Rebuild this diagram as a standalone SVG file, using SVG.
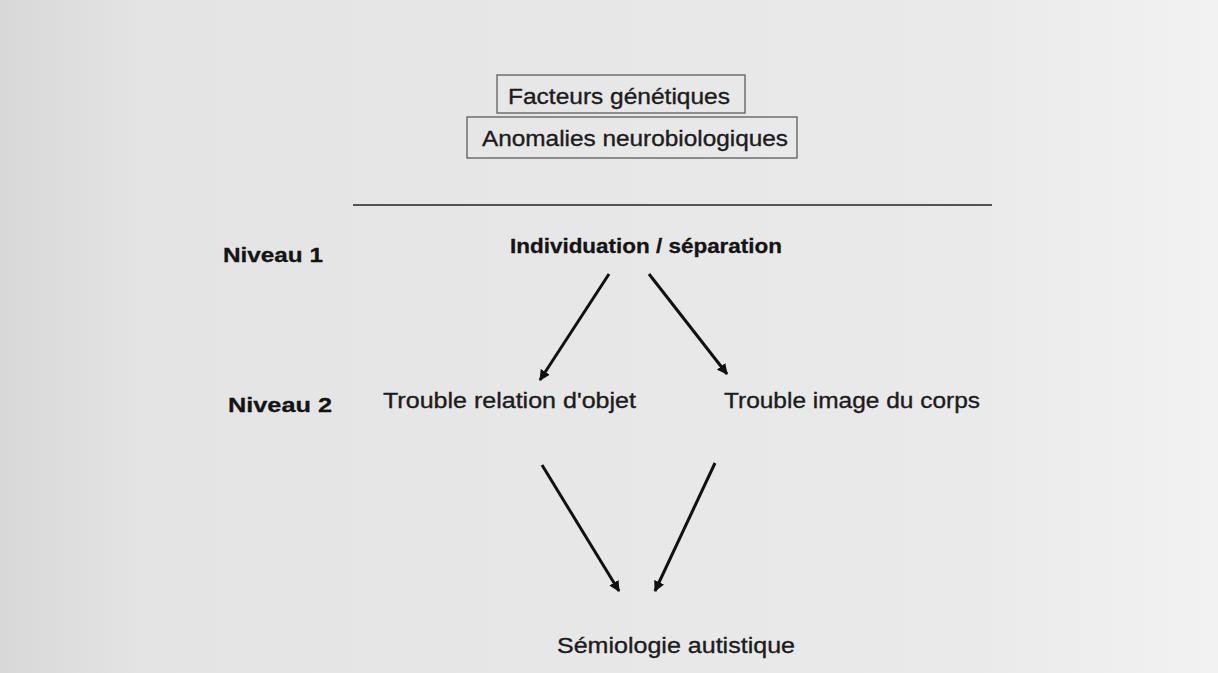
<svg xmlns="http://www.w3.org/2000/svg" width="1218" height="673" viewBox="0 0 1218 673">
<style>
  .t { font-family: "Liberation Sans", Arial, sans-serif; font-size: 22px; fill: #1c1c1c; stroke: #1c1c1c; stroke-width: 0.35; }
  .b { font-family: "Liberation Sans", Arial, sans-serif; font-size: 21px; font-weight: bold; fill: #141414; stroke: #141414; stroke-width: 0.3; }
  .box { fill: none; stroke: #666; stroke-width: 1.4; }
  .arrow { stroke: #111; stroke-width: 3; fill: none; marker-end: url(#ah); }
</style>
<defs>
  <linearGradient id="bg" x1="0" y1="0" x2="1" y2="0">
    <stop offset="0" stop-color="#d8d8d8"/>
    <stop offset="0.12" stop-color="#e4e4e4"/>
    <stop offset="0.8" stop-color="#eaeaea"/>
    <stop offset="1" stop-color="#f2f2f2"/>
  </linearGradient>
  <marker id="ah" viewBox="0 0 10 10" refX="9" refY="5" markerWidth="3.6" markerHeight="3.6" orient="auto" markerUnits="strokeWidth">
    <path d="M0,0 L10,5 L0,10 z" fill="#111"/>
  </marker>
</defs>
<rect width="1218" height="673" fill="url(#bg)"/>

<g id="facteurs">
  <rect class="box" x="497" y="75" width="248" height="38"/>
  <text class="t" x="508" y="104" textLength="222" lengthAdjust="spacingAndGlyphs">Facteurs génétiques</text>
</g>
<g id="anomalies">
  <rect class="box" x="467" y="117" width="330" height="41"/>
  <text class="t" x="482" y="146" textLength="306" lengthAdjust="spacingAndGlyphs">Anomalies neurobiologiques</text>
</g>
<g id="separator">
  <line x1="353" y1="205" x2="992" y2="205" stroke="#222" stroke-width="1.6"/>
</g>
<g id="niveau1">
  <text class="b" x="223" y="262" textLength="100" lengthAdjust="spacingAndGlyphs">Niveau 1</text>
</g>
<g id="individuation">
  <text class="b" x="510" y="253" textLength="272" lengthAdjust="spacingAndGlyphs">Individuation / séparation</text>
</g>
<g id="niveau2">
  <text class="b" x="228" y="412" textLength="104" lengthAdjust="spacingAndGlyphs">Niveau 2</text>
</g>
<g id="relation">
  <text class="t" x="383" y="408" textLength="253" lengthAdjust="spacingAndGlyphs">Trouble relation d'objet</text>
</g>
<g id="image">
  <text class="t" x="724" y="408" textLength="256" lengthAdjust="spacingAndGlyphs">Trouble image du corps</text>
</g>
<g id="semiologie">
  <text class="t" x="557" y="653" textLength="238" lengthAdjust="spacingAndGlyphs">Sémiologie autistique</text>
</g>

<g id="connectors">
  <line class="arrow" x1="609" y1="274" x2="540" y2="380"/>
  <line class="arrow" x1="649" y1="274" x2="727" y2="374"/>
  <line class="arrow" x1="542" y1="465" x2="619" y2="591"/>
  <line class="arrow" x1="715" y1="463" x2="655" y2="591"/>
</g>
</svg>
